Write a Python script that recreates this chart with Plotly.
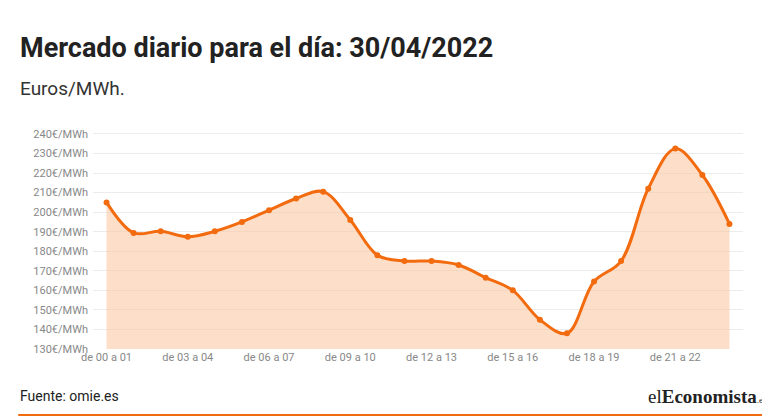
import plotly.graph_objects as go

hours = list(range(24))
prices = [205, 189.4, 190.2, 187.4, 190.2, 195, 201, 207, 210.5, 196,
          178, 175, 175, 173, 166.5, 160, 145, 138, 164.5, 175,
          212, 232.5, 219, 194]
tick_pos = [0, 3, 6, 9, 12, 15, 18, 21]
tick_text = ['de 00 a 01', 'de 03 a 04', 'de 06 a 07', 'de 09 a 10',
             'de 12 a 13', 'de 15 a 16', 'de 18 a 19', 'de 21 a 22']
y_ticks = list(range(130, 250, 10))
y_text = ['%d€/MWh' % v for v in y_ticks]

orange = '#f26b0f'
font = dict(family='Roboto, Arial', color='#222')

fig = go.Figure()
# invisible baseline so the area fills down to 130 only
fig.add_trace(go.Scatter(x=hours, y=[130] * len(hours), mode='lines',
                         line=dict(width=0), hoverinfo='skip', showlegend=False))
fig.add_trace(go.Scatter(x=hours, y=prices, mode='lines+markers',
                         line=dict(color=orange, width=3, shape='spline'),
                         marker=dict(color=orange, size=6),
                         fill='tonexty', fillcolor='rgba(252,200,165,0.6)',
                         showlegend=False))

fig.update_layout(
    width=770, height=420,
    margin=dict(l=85, r=35, t=124, b=79),
    paper_bgcolor='white', plot_bgcolor='white',
    font=font,
    xaxis=dict(range=[-0.5, 23.5], tickvals=tick_pos, ticktext=tick_text,
               showgrid=False, zeroline=False, ticks='', automargin=False,
               tickfont=dict(size=11, color='#888')),
    yaxis=dict(range=[130, 241], tickvals=y_ticks, ticktext=y_text,
               gridcolor='#ececec', zeroline=False, automargin=False,
               ticklabelstandoff=4,
               tickfont=dict(size=11, color='#888')),
)
fig.add_annotation(text='<b>Mercado diario para el día: 30/04/2022</b>',
                   xref='paper', yref='paper', x=-0.115, y=1.387, xanchor='left',
                   yanchor='middle', showarrow=False,
                   font=dict(size=27, color='#222'))
fig.add_annotation(text='Euros/MWh.', xref='paper', yref='paper', x=-0.115, y=1.2,
                   xanchor='left', yanchor='middle', showarrow=False,
                   font=dict(size=19, color='#333'))
fig.add_annotation(text='Fuente: omie.es', xref='paper', yref='paper', x=-0.115,
                   y=-0.217, xanchor='left', yanchor='middle', showarrow=False,
                   font=dict(size=14, color='#222'))
fig.add_annotation(text='el<b>Economista</b><span style="font-size:9px">.es</span>',
                   xref='paper', yref='paper', x=1.04, y=-0.217, xanchor='right',
                   yanchor='middle', showarrow=False,
                   font=dict(size=19, family='Liberation Serif, serif', color='#222'))
fig.add_shape(type='line', xref='paper', yref='paper', x0=-0.115, x1=1.05,
              y0=-0.304, y1=-0.304, line=dict(color=orange, width=2))

fig.write_html('out.html')
